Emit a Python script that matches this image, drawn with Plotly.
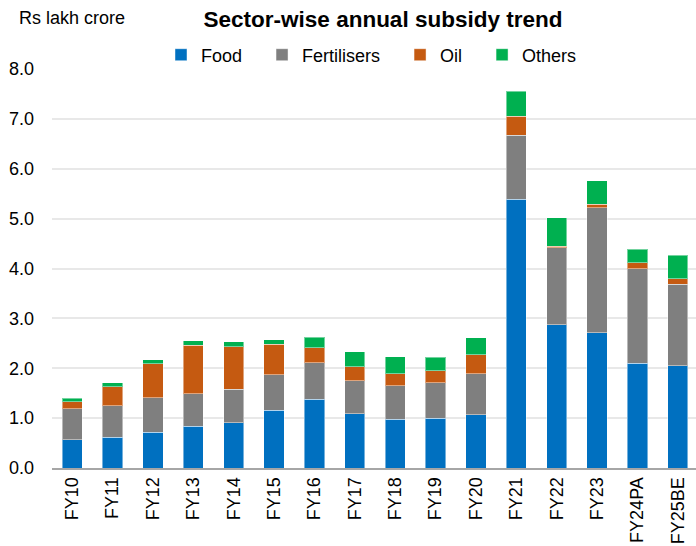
import plotly.graph_objects as go

years = ["FY10", "FY11", "FY12", "FY13", "FY14", "FY15", "FY16", "FY17",
         "FY18", "FY19", "FY20", "FY21", "FY22", "FY23", "FY24PA", "FY25BE"]
food = [0.57, 0.62, 0.72, 0.84, 0.91, 1.16, 1.38, 1.09, 0.98, 1.00, 1.07, 5.39, 2.87, 2.71, 2.10, 2.05]
fertilisers = [0.62, 0.63, 0.69, 0.65, 0.67, 0.71, 0.73, 0.66, 0.67, 0.71, 0.82, 1.28, 1.55, 2.51, 1.90, 1.63]
oil = [0.14, 0.38, 0.68, 0.97, 0.85, 0.61, 0.30, 0.28, 0.24, 0.24, 0.38, 0.38, 0.03, 0.07, 0.12, 0.11]
others = [0.07, 0.08, 0.08, 0.09, 0.10, 0.09, 0.21, 0.30, 0.34, 0.27, 0.34, 0.50, 0.57, 0.47, 0.27, 0.48]

series = [("Food", food, "#0070C0"), ("Fertilisers", fertilisers, "#7F7F7F"),
          ("Oil", oil, "#C55A11"), ("Others", others, "#00B050")]

FONT = "Liberation Sans, Arial, sans-serif"
PAD = "\u00a0" * 3

fig = go.Figure()
for name, vals, col in series:
    fig.add_trace(go.Bar(x=years, y=vals, name=name + PAD, marker_color=col,
                         marker_line=dict(color="rgba(255,255,255,0.45)", width=1)))

W, H = 696, 546
L, R, T, B = 52, 0, 69, 78
PW, PH = W - L - R, H - T - B
fig.update_layout(
    width=W, height=H, barmode="stack", bargap=0.5,
    margin=dict(l=L, r=R, t=T, b=B),
    paper_bgcolor="white", plot_bgcolor="white",
    font=dict(family=FONT, size=18, color="#000000"),
    title=dict(text="<b>Sector-wise annual subsidy trend</b>", x=383 / W, xref="container",
               xanchor="center", y=1 - 19 / H, yref="container", yanchor="middle",
               font=dict(size=22.5, family=FONT, color="#000000")),
    legend=dict(orientation="h", x=(161 - L) / PW, xanchor="left",
                y=(H - B - 55) / PH, yanchor="middle",
                font=dict(size=18, family=FONT), traceorder="normal",
                itemwidth=30, bgcolor="rgba(0,0,0,0)"),
    showlegend=True,
    annotations=[dict(text="Rs lakh crore", xref="paper", yref="paper",
                      x=(17 - L) / PW, y=(H - B - 18) / PH,
                      xanchor="left", yanchor="middle", showarrow=False,
                      font=dict(size=18, family=FONT, color="#000000"))],
)
fig.update_xaxes(type="category", range=[-0.5, 15.45], tickangle=-90,
                 tickfont=dict(size=18, family=FONT, color="#000000"),
                 showline=True, linecolor="#A6A6A6", linewidth=2, ticks="",
                 showgrid=False)
fig.update_yaxes(range=[0, 8], dtick=1, tickformat=".1f",
                 tickfont=dict(size=18, family=FONT, color="#000000"),
                 showgrid=True, gridcolor="#E8E8E8", gridwidth=2,
                 zeroline=False, ticks="", ticklabelstandoff=17)

fig.write_html("out.html")
